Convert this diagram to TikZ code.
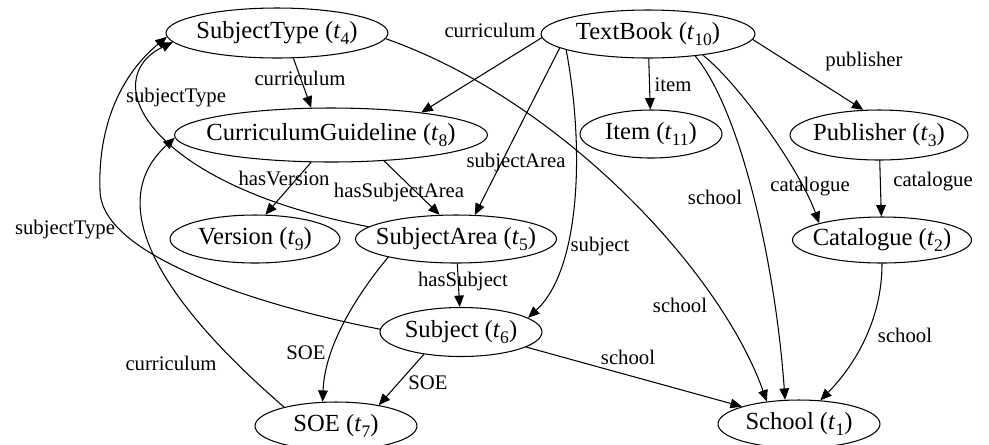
\documentclass[tikz,border=0pt]{standalone}
\usepackage{fontspec}
\setmainfont{Liberation Serif}
\usetikzlibrary{shapes.geometric,arrows.meta}

% class boxes, relation arrows and their labels
\tikzset{
  class/.style={draw, ellipse, inner sep=0pt, line width=0.6pt,
    font=\fontsize{14}{16}\selectfont},
  rel/.style={draw, line width=0.6pt, -{Triangle[length=6.5pt,width=5.5pt]}},
  lbl/.style={inner sep=0pt, font=\fontsize{11.8}{13}\selectfont}
}
% class name with its index, kept out of the ellipse size
\newcommand{\cname}[2]{\makebox[0pt]{#1 (\textit{t}\raisebox{-0.5ex}{\fontsize{10}{11}\selectfont #2})}}

\begin{document}
\begin{tikzpicture}[x=0.02cm, y=-0.02cm]

    \useasboundingbox (0,0) rectangle (989,444);

    % --- Classes ---
    % Top row
    \node[class, minimum width=4.44cm, minimum height=1.0cm] (st) at (277,33) {\cname{SubjectType}{4}};
    \node[class, minimum width=4.28cm, minimum height=0.96cm] (tb) at (648,34) {\cname{TextBook}{10}};
    % Second row
    \node[class, minimum width=6.26cm, minimum height=1.08cm] (cg) at (331,135) {\cname{CurriculumGuideline}{8}};
    \node[class, minimum width=2.84cm, minimum height=0.96cm] (item) at (651,134) {\cname{Item}{11}};
    \node[class, minimum width=3.56cm, minimum height=1.0cm] (pub) at (879,135) {\cname{Publisher}{3}};
    % Third row
    \node[class, minimum width=3.40cm, minimum height=0.96cm] (ver) at (255,239) {\cname{Version}{9}};
    \node[class, minimum width=4.02cm, minimum height=0.96cm] (sa) at (456,239) {\cname{SubjectArea}{5}};
    \node[class, minimum width=3.58cm, minimum height=0.92cm] (cat) at (882,240) {\cname{Catalogue}{2}};
    % Fourth row
    \node[class, minimum width=3.24cm, minimum height=0.98cm] (subj) at (461,332) {\cname{Subject}{6}};
    % Bottom row
    \node[class, minimum width=3.24cm, minimum height=0.96cm] (soe) at (336,426) {\cname{SOE}{7}};
    \node[class, minimum width=3.24cm, minimum height=0.96cm] (school) at (799,424) {\cname{School}{1}};

    % --- Relations out of TextBook ---
    % curriculum
    \draw[rel] (tb.182) -- (cg.14);
    \node[lbl] (l-tb-cg) at (490,30) {curriculum};
    % subjectArea
    \draw[rel] (tb.189) -- (sa.52);
    \node[lbl] (l-tb-sa) at (516,163) {subjectArea};
    % subject
    \draw[rel] (tb.191) .. controls (585,150) and (580,270) .. (subj.12);
    \node[lbl] (l-tb-subj) at (600,247) {subject};
    % item
    \draw[rel] (tb) -- (item);
    \node[lbl] (l-tb-item) at (673,85) {item};
    % school
    \draw[rel] (tb.-25) .. controls (740,110) and (775,260) .. (school.120);
    \node[lbl] (l-tb-school) at (715,197) {school};
    % catalogue
    \draw[rel] (tb.-21) .. controls (740,85) and (800,170) .. (cat.165);
    \node[lbl] (l-tb-cat) at (810,187) {catalogue};
    % publisher
    \draw[rel] (tb.-3) -- (pub.122);
    \node[lbl] (l-tb-pub) at (864,62) {publisher};

    % --- Right column ---
    \draw[rel] (pub) -- (cat);
    \node[lbl] (l-pub-cat) at (933,182) {catalogue};
    \draw[rel] (cat.south) .. controls (882,320) and (855,365) .. (school.48);
    \node[lbl] (l-cat-school) at (905,335) {school};

    % --- SubjectType and CurriculumGuideline ---
    \draw[rel] (st.-57) -- (cg.126);
    \node[lbl] (l-st-cg) at (300,78) {curriculum};
    \draw[rel] (st.-3) .. controls (560,100) and (720,270) .. (school.145);
    \node[lbl] (l-st-school) at (680,305) {school};
    \draw[rel] (cg.234) -- (ver.67);
    \node[lbl] (l-cg-ver) at (284,178) {hasVersion};
    \draw[rel] (cg.-26) -- (sa.124);
    \node[lbl] (l-cg-sa) at (399,193) {hasSubjectArea};

    % --- SubjectArea and Subject ---
    \draw[rel] (sa) -- (subj);
    \node[lbl] (l-sa-subj) at (463,282) {hasSubject};
    \draw[rel] (sa.172) .. controls (150,185) and (95,80) .. (st.185);
    \node[lbl] (l-sa-st) at (176,98) {subjectType};
    \draw[rel] (sa.195) .. controls (365,285) and (325,340) .. (soe.119);
    \node[lbl] (l-sa-soe) at (306,353) {SOE};
    \draw[rel] (subj.211) -- (soe.26);
    \node[lbl] (l-subj-soe) at (428,383) {SOE};
    \draw[rel] (subj.-13) -- (school.163);
    \node[lbl] (l-subj-school) at (628,357) {school};
    % long way round on the left
    \draw[rel] (subj.178) .. controls (280,310) and (100,260) .. (100,190)
                          .. controls (98,135) and (115,80) .. (st.182);
    \node[lbl] (l-subj-st) at (65,230) {subjectType};

    % --- SOE back up ---
    \draw[rel] (soe.160) .. controls (195,330) and (90,215) .. (cg.181);
    \node[lbl] (l-soe-cg) at (171,363) {curriculum};

\end{tikzpicture}
\end{document}
